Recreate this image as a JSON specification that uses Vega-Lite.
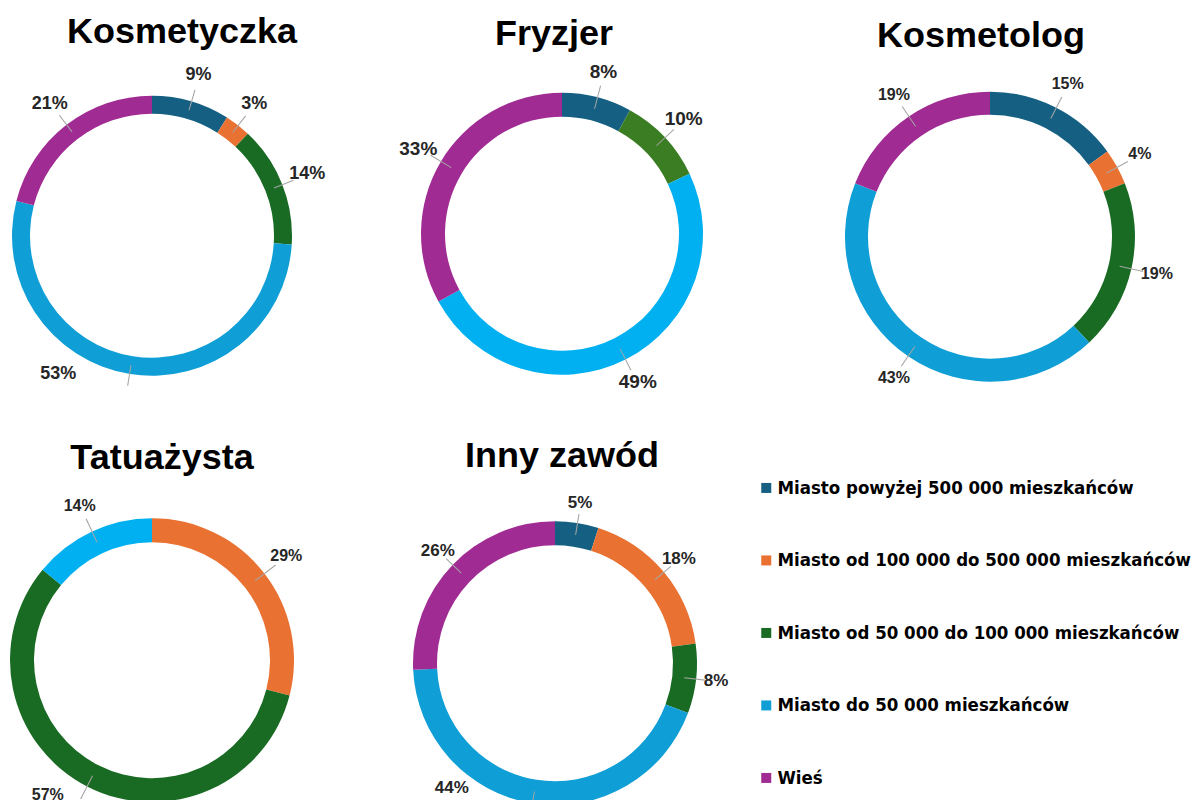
{
  "$schema": "https://vega.github.io/schema/vega-lite/v6.json",
  "padding": {"left": 2, "top": 13.7, "right": 0, "bottom": 0},
  "background": "white",
  "bounds": "flush",
  "align": "each",
  "columns": 3,
  "spacing": {"row": 121.5, "column": 110},
  "config": {
    "view": {"stroke": null},
    "title": {"font": "Liberation Sans", "fontSize": 36, "fontWeight": "bold", "color": "#000000", "anchor": "middle", "frame": "group", "offset": 11},
    "text": {"font": "Liberation Sans", "fontWeight": "bold", "color": "#262626", "align": "center", "baseline": "middle"}
  },
  "resolve": {"scale": {"color": "independent", "theta": "independent"}, "legend": {"color": "independent"}},
  "datasets": {
    "d": [
      {"chart": "Kosmetyczka", "k": 1, "cat": "Miasto powyżej 500 000 mieszkańców", "v": 9, "lbl": "9%"},
      {"chart": "Kosmetyczka", "k": 2, "cat": "Miasto od 100 000 do 500 000 mieszkańców", "v": 3, "lbl": "3%"},
      {"chart": "Kosmetyczka", "k": 3, "cat": "Miasto od 50 000 do 100 000 mieszkańców", "v": 14, "lbl": "14%"},
      {"chart": "Kosmetyczka", "k": 4, "cat": "Miasto do 50 000 mieszkańców", "v": 53, "lbl": "53%"},
      {"chart": "Kosmetyczka", "k": 5, "cat": "Wieś", "v": 21, "lbl": "21%"},
      {"chart": "Fryzjer", "k": 1, "cat": "Miasto powyżej 500 000 mieszkańców", "v": 8, "lbl": "8%"},
      {"chart": "Fryzjer", "k": 3, "cat": "Miasto od 50 000 do 100 000 mieszkańców", "v": 10, "lbl": "10%"},
      {"chart": "Fryzjer", "k": 4, "cat": "Miasto do 50 000 mieszkańców", "v": 49, "lbl": "49%"},
      {"chart": "Fryzjer", "k": 5, "cat": "Wieś", "v": 33, "lbl": "33%"},
      {"chart": "Kosmetolog", "k": 1, "cat": "Miasto powyżej 500 000 mieszkańców", "v": 15, "lbl": "15%"},
      {"chart": "Kosmetolog", "k": 2, "cat": "Miasto od 100 000 do 500 000 mieszkańców", "v": 4, "lbl": "4%"},
      {"chart": "Kosmetolog", "k": 3, "cat": "Miasto od 50 000 do 100 000 mieszkańców", "v": 19, "lbl": "19%"},
      {"chart": "Kosmetolog", "k": 4, "cat": "Miasto do 50 000 mieszkańców", "v": 43, "lbl": "43%"},
      {"chart": "Kosmetolog", "k": 5, "cat": "Wieś", "v": 19, "lbl": "19%"},
      {"chart": "Tatuażysta", "k": 2, "cat": "Miasto od 100 000 do 500 000 mieszkańców", "v": 29, "lbl": "29%"},
      {"chart": "Tatuażysta", "k": 3, "cat": "Miasto od 50 000 do 100 000 mieszkańców", "v": 57, "lbl": "57%"},
      {"chart": "Tatuażysta", "k": 4, "cat": "Miasto do 50 000 mieszkańców", "v": 14, "lbl": "14%"},
      {"chart": "Inny zawód", "k": 1, "cat": "Miasto powyżej 500 000 mieszkańców", "v": 5, "lbl": "5%"},
      {"chart": "Inny zawód", "k": 2, "cat": "Miasto od 100 000 do 500 000 mieszkańców", "v": 18, "lbl": "18%"},
      {"chart": "Inny zawód", "k": 3, "cat": "Miasto od 50 000 do 100 000 mieszkańców", "v": 8, "lbl": "8%"},
      {"chart": "Inny zawód", "k": 4, "cat": "Miasto do 50 000 mieszkańców", "v": 44, "lbl": "44%"},
      {"chart": "Inny zawód", "k": 5, "cat": "Wieś", "v": 26, "lbl": "26%"}
    ]
  },
  "concat": [
    {
      "width": 300, "height": 300,
      "title": {"text": "Kosmetyczka", "dx": 30, "offset": 15.5},
      "data": {"name": "d"},
      "transform": [
        {"filter": "datum.chart === 'Kosmetyczka'"},
        {"stack": "v", "groupby": [], "sort": [{"field": "k"}], "as": ["v0", "v1"]},
        {"joinaggregate": [{"op": "sum", "field": "v", "as": "tot"}]},
        {"calculate": "(datum.v0 + datum.v1) / 2", "as": "mid"},
        {"calculate": "datum.mid + 0.12", "as": "mid2"},
        {"calculate": "datum.mid / datum.tot > 0.45 && datum.mid / datum.tot < 0.59 ? 0.595 * datum.tot : datum.mid", "as": "lt"}
      ],
      "encoding": {
        "color": {"field": "cat", "type": "nominal", "legend": null,
          "scale": {"domain": ["Miasto powyżej 500 000 mieszkańców", "Miasto od 100 000 do 500 000 mieszkańców", "Miasto od 50 000 do 100 000 mieszkańców", "Miasto do 50 000 mieszkańców", "Wieś"],
                    "range": ["#156082", "#e97132", "#196b24", "#0f9ed5", "#a02b93"]}}
      },
      "layer": [
        {"mark": {"type": "arc", "radius": 140, "radius2": 122}, "encoding": {"theta": {"field": "v0", "type": "quantitative", "scale": {"domain": [0, 100]}}, "theta2": {"field": "v1"}}},
        {"mark": {"type": "arc", "radius": 152, "radius2": 131}, "encoding": {"theta": {"field": "mid", "type": "quantitative", "scale": {"domain": [0, 100]}}, "theta2": {"field": "mid2"}, "color": {"value": "#a6a6a6"}}},
        {"mark": {"type": "text", "radius": 167, "fontSize": 18}, "encoding": {"theta": {"field": "lt", "type": "quantitative", "scale": {"domain": [0, 100]}}, "text": {"field": "lbl"}, "color": {"value": "#262626"}}}
      ]
    },
    {
      "width": 300, "height": 296,
      "title": {"text": "Fryzjer", "dx": -8, "offset": 10.3},
      "data": {"name": "d"},
      "transform": [
        {"filter": "datum.chart === 'Fryzjer'"},
        {"stack": "v", "groupby": [], "sort": [{"field": "k"}], "as": ["v0", "v1"]},
        {"joinaggregate": [{"op": "sum", "field": "v", "as": "tot"}]},
        {"calculate": "(datum.v0 + datum.v1) / 2", "as": "mid"},
        {"calculate": "datum.mid + 0.12", "as": "mid2"},
        {"calculate": "datum.mid / datum.tot > 0.45 && datum.mid / datum.tot < 0.59 ? 0.595 * datum.tot : datum.mid", "as": "lt"}
      ],
      "encoding": {
        "color": {"field": "cat", "type": "nominal", "legend": null,
          "scale": {"domain": ["Miasto powyżej 500 000 mieszkańców", "Miasto od 100 000 do 500 000 mieszkańców", "Miasto od 50 000 do 100 000 mieszkańców", "Miasto do 50 000 mieszkańców", "Wieś"],
                    "range": ["#156082", "#e97132", "#3b7d23", "#00b0f0", "#a02b93"]}}
      },
      "layer": [
        {"mark": {"type": "arc", "radius": 141, "radius2": 117}, "encoding": {"theta": {"field": "v0", "type": "quantitative", "scale": {"domain": [0, 100]}}, "theta2": {"field": "v1"}}},
        {"mark": {"type": "arc", "radius": 153, "radius2": 129}, "encoding": {"theta": {"field": "mid", "type": "quantitative", "scale": {"domain": [0, 100]}}, "theta2": {"field": "mid2"}, "color": {"value": "#a6a6a6"}}},
        {"mark": {"type": "text", "radius": 167, "fontSize": 19}, "encoding": {"theta": {"field": "lt", "type": "quantitative", "scale": {"domain": [0, 100]}}, "text": {"field": "lbl"}, "color": {"value": "#262626"}}}
      ]
    },
    {
      "width": 336, "height": 302,
      "title": {"text": "Kosmetolog", "dx": -9, "offset": 21.3},
      "data": {"name": "d"},
      "transform": [
        {"filter": "datum.chart === 'Kosmetolog'"},
        {"stack": "v", "groupby": [], "sort": [{"field": "k"}], "as": ["v0", "v1"]},
        {"joinaggregate": [{"op": "sum", "field": "v", "as": "tot"}]},
        {"calculate": "(datum.v0 + datum.v1) / 2", "as": "mid"},
        {"calculate": "datum.mid + 0.12", "as": "mid2"},
        {"calculate": "datum.mid / datum.tot > 0.45 && datum.mid / datum.tot < 0.59 ? 0.595 * datum.tot : datum.mid", "as": "lt"}
      ],
      "encoding": {
        "color": {"field": "cat", "type": "nominal",
          "scale": {"domain": ["Miasto powyżej 500 000 mieszkańców", "Miasto od 100 000 do 500 000 mieszkańców", "Miasto od 50 000 do 100 000 mieszkańców", "Miasto do 50 000 mieszkańców", "Wieś"],
                    "range": ["#156082", "#e97132", "#196b24", "#0f9ed5", "#a02b93"]},
          "legend": {"orient": "none", "legendX": -65, "legendY": 393, "title": null, "padding": 0,
                     "symbolType": "square", "symbolSize": 100, "symbolStrokeWidth": 0, "symbolOpacity": 1,
                     "labelFont": "DejaVu Sans Condensed", "labelFontSize": 18.5, "labelFontWeight": "bold",
                     "labelColor": "#000000", "labelOffset": 2, "labelLimit": 0, "rowPadding": 53.5}}
      },
      "layer": [
        {"mark": {"type": "arc", "radius": 145, "radius2": 122}, "encoding": {"theta": {"field": "v0", "type": "quantitative", "scale": {"domain": [0, 100]}}, "theta2": {"field": "v1"}}},
        {"mark": {"type": "arc", "radius": 157, "radius2": 133}, "encoding": {"theta": {"field": "mid", "type": "quantitative", "scale": {"domain": [0, 100]}}, "theta2": {"field": "mid2"}, "color": {"value": "#a6a6a6"}}},
        {"mark": {"type": "text", "radius": 171, "fontSize": 16}, "encoding": {"theta": {"field": "lt", "type": "quantitative", "scale": {"domain": [0, 100]}}, "text": {"field": "lbl"}, "color": {"value": "#262626"}}}
      ]
    },
    {
      "width": 300, "height": 302,
      "title": {"text": "Tatuażysta", "dx": 10, "offset": 21.2},
      "data": {"name": "d"},
      "transform": [
        {"filter": "datum.chart === 'Tatuażysta'"},
        {"stack": "v", "groupby": [], "sort": [{"field": "k"}], "as": ["v0", "v1"]},
        {"joinaggregate": [{"op": "sum", "field": "v", "as": "tot"}]},
        {"calculate": "(datum.v0 + datum.v1) / 2", "as": "mid"},
        {"calculate": "datum.mid + 0.12", "as": "mid2"},
        {"calculate": "datum.mid / datum.tot > 0.45 && datum.mid / datum.tot < 0.59 ? 0.605 * datum.tot : datum.mid", "as": "lt"}
      ],
      "encoding": {
        "color": {"field": "cat", "type": "nominal", "legend": null,
          "scale": {"domain": ["Miasto powyżej 500 000 mieszkańców", "Miasto od 100 000 do 500 000 mieszkańców", "Miasto od 50 000 do 100 000 mieszkańców", "Miasto do 50 000 mieszkańców", "Wieś"],
                    "range": ["#156082", "#e97132", "#196b24", "#00b0f0", "#a02b93"]}}
      },
      "layer": [
        {"mark": {"type": "arc", "radius": 142, "radius2": 118}, "encoding": {"theta": {"field": "v0", "type": "quantitative", "scale": {"domain": [0, 100]}}, "theta2": {"field": "v1"}}},
        {"mark": {"type": "arc", "radius": 156, "radius2": 130}, "encoding": {"theta": {"field": "mid", "type": "quantitative", "scale": {"domain": [0, 100]}}, "theta2": {"field": "mid2"}, "color": {"value": "#a6a6a6"}}},
        {"mark": {"type": "text", "radius": 170, "fontSize": 16}, "encoding": {"theta": {"field": "lt", "type": "quantitative", "scale": {"domain": [0, 100]}}, "text": {"field": "lbl"}, "color": {"value": "#262626"}}}
      ]
    },
    {
      "width": 286, "height": 308,
      "title": {"text": "Inny zawód", "dx": 7, "offset": 19.3},
      "data": {"name": "d"},
      "transform": [
        {"filter": "datum.chart === 'Inny zawód'"},
        {"stack": "v", "groupby": [], "sort": [{"field": "k"}], "as": ["v0", "v1"]},
        {"joinaggregate": [{"op": "sum", "field": "v", "as": "tot"}]},
        {"calculate": "(datum.v0 + datum.v1) / 2", "as": "mid"},
        {"calculate": "datum.mid + 0.12", "as": "mid2"},
        {"calculate": "datum.mid / datum.tot > 0.45 && datum.mid / datum.tot < 0.59 ? 0.61 * datum.tot : datum.mid", "as": "lt"}
      ],
      "encoding": {
        "color": {"field": "cat", "type": "nominal", "legend": null,
          "scale": {"domain": ["Miasto powyżej 500 000 mieszkańców", "Miasto od 100 000 do 500 000 mieszkańców", "Miasto od 50 000 do 100 000 mieszkańców", "Miasto do 50 000 mieszkańców", "Wieś"],
                    "range": ["#156082", "#e97132", "#196b24", "#0f9ed5", "#a02b93"]}}
      },
      "layer": [
        {"mark": {"type": "arc", "radius": 142, "radius2": 118}, "encoding": {"theta": {"field": "v0", "type": "quantitative", "scale": {"domain": [0, 101]}}, "theta2": {"field": "v1"}}},
        {"mark": {"type": "arc", "radius": 151, "radius2": 130}, "encoding": {"theta": {"field": "mid", "type": "quantitative", "scale": {"domain": [0, 101]}}, "theta2": {"field": "mid2"}, "color": {"value": "#a6a6a6"}}},
        {"mark": {"type": "text", "radius": 162, "fontSize": 17}, "encoding": {"theta": {"field": "lt", "type": "quantitative", "scale": {"domain": [0, 101]}}, "text": {"field": "lbl"}, "color": {"value": "#262626"}}}
      ]
    }
  ]
}
